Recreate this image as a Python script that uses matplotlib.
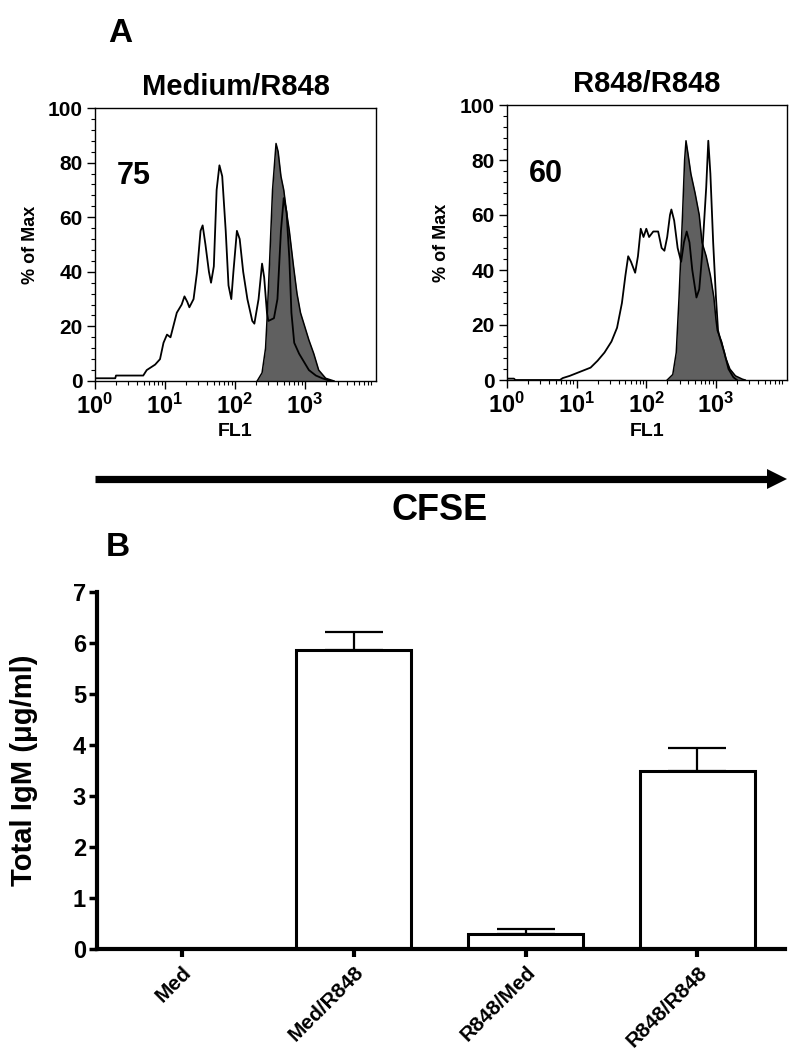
import matplotlib
matplotlib.use('Agg')
import matplotlib.pyplot as plt
from matplotlib.patches import Polygon
from matplotlib.lines import Line2D
from matplotlib.ticker import FixedLocator, NullFormatter, MultipleLocator, LogLocator

plt.rcParams['font.family'] = ['Liberation Sans', 'DejaVu Sans']
plt.rcParams['font.weight'] = 'bold'
plt.rcParams['mathtext.fontset'] = 'custom'
plt.rcParams['mathtext.rm'] = 'Liberation Sans:bold'
plt.rcParams['mathtext.it'] = 'Liberation Sans:bold'
plt.rcParams['mathtext.bf'] = 'Liberation Sans:bold'

# ---- panel A: CFSE histograms (log10 FL1, % of max) ----
left_title = 'Medium/R848'
left_pct_label = '75'
left_open_log = [0.0, 0.29, 0.30, 0.69, 0.74, 0.80, 0.86, 0.93, 0.98, 1.03, 1.08, 1.17, 1.24, 1.28, 1.32,
                 1.35, 1.41, 1.46, 1.51, 1.54, 1.58, 1.63, 1.66, 1.70, 1.74, 1.78, 1.82, 1.87, 1.91, 1.95,
                 1.98, 2.03, 2.07, 2.12, 2.18, 2.25, 2.28, 2.34, 2.39, 2.42, 2.46, 2.48, 2.56, 2.61, 2.66,
                 2.70, 2.74, 2.78, 2.81, 2.85, 2.92, 2.99, 3.06, 3.16, 3.25, 3.37]
left_open_pct = [1, 1, 2, 2, 4, 5, 6, 8, 14, 17, 16, 25, 28, 31, 29,
                 27, 30, 40, 55, 57, 50, 40, 36, 42, 70, 79, 75, 55, 35, 30,
                 40, 55, 52, 40, 30, 22, 21, 30, 43, 38, 25, 22, 23, 30, 55,
                 67, 62, 45, 25, 14, 10, 7, 4, 2, 1, 0]
left_fill_log = [2.32, 2.39, 2.44, 2.46, 2.50, 2.54, 2.59, 2.62, 2.66, 2.70, 2.74, 2.78, 2.84, 2.89,
                 2.94, 3.00, 3.06, 3.13, 3.20, 3.30, 3.42]
left_fill_pct = [0, 3, 12, 22, 45, 70, 87, 84, 75, 70, 62, 55, 42, 32,
                 25, 20, 15, 10, 4, 1, 0]

right_title = 'R848/R848'
right_pct_label = '60'
right_open_log = [0.0, 0.10, 0.12, 0.76, 0.80, 0.90, 1.00, 1.10, 1.20, 1.30, 1.40, 1.50, 1.58, 1.65,
                  1.70, 1.74, 1.78, 1.84, 1.88, 1.92, 1.96, 2.00, 2.04, 2.10, 2.17, 2.22, 2.26, 2.30,
                  2.34, 2.36, 2.40, 2.45, 2.50, 2.54, 2.58, 2.62, 2.66, 2.72, 2.76, 2.80, 2.86, 2.89,
                  2.92, 2.96, 3.00, 3.03, 3.06, 3.12, 3.18, 3.25, 3.30]
right_open_pct = [0.5, 0.5, 0, 0, 0.7, 1.5, 2.5, 3.5, 4.5, 7, 10, 14, 19, 28,
                  38, 45, 43, 39, 45, 55, 52, 55, 52, 54, 54, 48, 47, 52,
                  60, 62, 58, 48, 43, 50, 54, 50, 40, 30, 33, 45, 70, 87,
                  75, 50, 30, 18, 15, 10, 4, 1, 0]
right_fill_log = [2.30, 2.38, 2.43, 2.47, 2.52, 2.55, 2.57, 2.60, 2.64, 2.70, 2.76, 2.80, 2.86, 2.92,
                  2.97, 3.00, 3.02, 3.08, 3.14, 3.20, 3.28, 3.38, 3.42]
right_fill_pct = [0, 2, 10, 30, 60, 80, 87, 82, 75, 68, 60, 50, 45, 38,
                  30, 22, 18, 14, 8, 4, 1.5, 0.3, 0]

# ---- panel B: total IgM ----
groups = ['Med', 'Med/R848', 'R848/Med', 'R848/R848']
igm = [0.0, 5.87, 0.30, 3.50]
igm_err = [0.0, 0.35, 0.09, 0.45]

W, H = 806, 1050
fig = plt.figure(figsize=(W / 100, H / 100), dpi=100)


def fx(px):
    return px / W


def fy(py):
    return 1 - py / H


def hist_panel(rect, title, label, open_log, open_pct, fill_log, fill_pct, ylab_x):
    ax = fig.add_axes(rect)
    ax.fill_between([10 ** v for v in fill_log], fill_pct, 0, color='#606060', lw=0)
    ax.plot([10 ** v for v in fill_log], fill_pct, color='black', lw=1.1)
    ax.plot([10 ** v for v in open_log], open_pct, color='black', lw=1.3)
    ax.set_xscale('log')
    ax.set_xlim(1, 10 ** 4.02)
    ax.set_ylim(0, 100)
    ax.xaxis.set_major_locator(FixedLocator([1, 10, 100, 1000]))
    ax.set_xticklabels([r'$10^{0}$', r'$10^{1}$', r'$10^{2}$', r'$10^{3}$'], fontsize=17)
    ax.xaxis.set_minor_locator(LogLocator(base=10, subs=range(2, 10), numticks=20))
    ax.xaxis.set_minor_formatter(NullFormatter())
    ax.yaxis.set_major_locator(MultipleLocator(20))
    ax.yaxis.set_minor_locator(MultipleLocator(4))
    ax.tick_params(axis='y', which='major', length=6, width=1, labelsize=15, pad=3)
    ax.tick_params(axis='y', which='minor', length=3, width=0.8)
    ax.tick_params(axis='x', which='major', length=6, width=1, pad=3)
    ax.tick_params(axis='x', which='minor', length=3, width=0.8)
    for s in ax.spines.values():
        s.set_linewidth(1)
    ax.set_ylabel('% of Max', fontsize=13, fontweight='bold')
    ax.yaxis.set_label_coords(ylab_x, 0.5)
    ax.set_xlabel('FL1', fontsize=14, fontweight='bold')
    ax.xaxis.set_label_coords(0.5, -0.155)
    ax.text(0.5, 1.025, title, transform=ax.transAxes, ha='center', va='bottom',
            fontsize=21, fontweight='bold')
    ax.text(10 ** 0.56, 75, label, ha='center', va='center', fontsize=22, fontweight='bold')
    return ax


hist_panel([fx(95), fy(381), fx(376 - 95), (381 - 108) / H], left_title, left_pct_label,
           left_open_log, left_open_pct, left_fill_log, left_fill_pct, -0.2)
hist_panel([fx(507), fy(380), fx(787 - 507), (380 - 105) / H], right_title, right_pct_label,
           right_open_log, right_open_pct, right_fill_log, right_fill_pct, -0.205)

fig.text(fx(120), fy(33), 'A', fontsize=24, fontweight='bold', ha='center', va='center')
fig.text(fx(118), fy(548), 'B', fontsize=24, fontweight='bold', ha='center', va='center')

# CFSE arrow: shaft plus small triangular head
fig.add_artist(Line2D([fx(95), fx(770)], [fy(479), fy(479)], transform=fig.transFigure,
                      color='black', lw=5.2, solid_capstyle='butt'))
fig.add_artist(Polygon([[fx(767), fy(469)], [fx(787), fy(479)], [fx(767), fy(489)]],
                       closed=True, transform=fig.transFigure, color='black', lw=0))
fig.text(fx(440), fy(510), 'CFSE', fontsize=26, fontweight='bold', ha='center', va='center')

# bar chart
axb = fig.add_axes([fx(97), fy(949), fx(785 - 97), (949 - 592) / H])
xpos = list(range(len(groups)))
axb.bar(xpos, igm, width=0.67, color='white', edgecolor='black', linewidth=2.2, zorder=2)
axb.errorbar(xpos, igm, yerr=[[0] * len(groups), igm_err], fmt='none', ecolor='black',
             elinewidth=1.6, capsize=21, capthick=1.6, zorder=1)
axb.set_xlim(-0.495, 3.51)
axb.set_ylim(0, 7)
axb.set_yticks(range(0, 8))
axb.set_xticks(xpos)
axb.set_xticklabels(groups, rotation=45, ha='right', rotation_mode='anchor', fontsize=15,
                    fontweight='bold')
axb.tick_params(axis='y', length=6, width=2.5, labelsize=17, pad=2)
axb.tick_params(axis='x', length=6, width=3, pad=4)
for s in ['top', 'right']:
    axb.spines[s].set_visible(False)
for s in ['left', 'bottom']:
    axb.spines[s].set_linewidth(3)
axb.set_ylabel('Total IgM (\u03bcg/ml)', fontsize=21, fontweight='bold')
axb.yaxis.set_label_coords(-0.086, 0.5)

fig.savefig('out.png', dpi=100)
